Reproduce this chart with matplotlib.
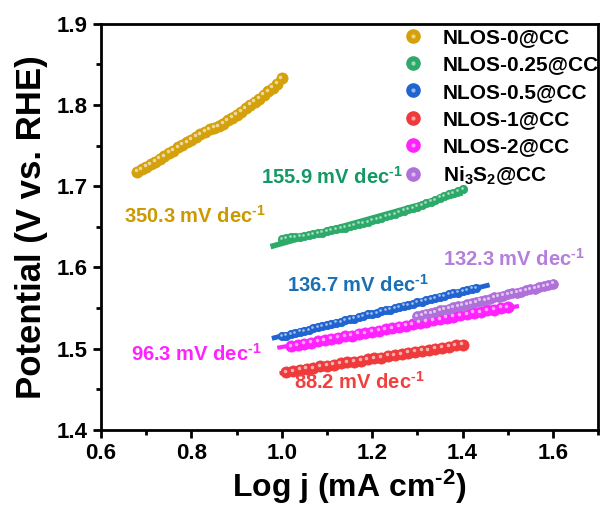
import matplotlib.pyplot as plt
import matplotlib.transforms as mtransforms
import numpy as np
from matplotlib.legend_handler import HandlerTuple
from matplotlib.lines import Line2D

plt.rcParams["font.family"] = ["Liberation Sans", "DejaVu Sans"]
plt.rcParams["font.weight"] = "bold"
plt.rcParams["mathtext.fontset"] = "custom"
plt.rcParams["mathtext.rm"] = "Liberation Sans:bold"
plt.rcParams["mathtext.bf"] = "Liberation Sans:bold"
plt.rcParams["mathtext.it"] = "Liberation Sans:bold:italic"
plt.rcParams["mathtext.default"] = "bf"

# ---- data ----
labels = ["NLOS-0@CC", "NLOS-0.25@CC", "NLOS-0.5@CC", "NLOS-1@CC",
          "NLOS-2@CC", "Ni$_3$S$_2$@CC"]
tafel_slopes = [350.3, 155.9, 136.7, 88.2, 96.3, 132.3]  # mV dec-1

x_nlos0 = [0.68, 0.69, 0.70, 0.71, 0.72, 0.73, 0.74, 0.75, 0.76, 0.77, 0.78,
           0.79, 0.80, 0.81, 0.82, 0.83, 0.84, 0.85, 0.86, 0.87, 0.88, 0.89,
           0.90, 0.91, 0.92, 0.93, 0.94, 0.95, 0.96, 0.97, 0.98, 0.99, 1.00]
y_nlos0 = [1.718, 1.721, 1.724, 1.727, 1.730, 1.734, 1.737, 1.741, 1.744,
           1.748, 1.751, 1.754, 1.757, 1.761, 1.764, 1.767, 1.770, 1.772,
           1.774, 1.777, 1.781, 1.784, 1.788, 1.792, 1.796, 1.800, 1.804,
           1.808, 1.813, 1.817, 1.821, 1.826, 1.833]

x_nlos025 = [1.00, 1.01, 1.02, 1.03, 1.04, 1.05, 1.06, 1.07, 1.08, 1.09, 1.10,
             1.11, 1.12, 1.13, 1.14, 1.15, 1.16, 1.17, 1.18, 1.19, 1.20, 1.21,
             1.22, 1.23, 1.24, 1.25, 1.26, 1.27, 1.28, 1.29, 1.30, 1.31, 1.32,
             1.33, 1.34, 1.35, 1.36, 1.37, 1.38, 1.39, 1.40]
y_nlos025 = [1.635, 1.636, 1.637, 1.637, 1.638, 1.639, 1.640, 1.641, 1.642,
             1.643, 1.645, 1.646, 1.647, 1.648, 1.649, 1.651, 1.652, 1.654,
             1.655, 1.656, 1.658, 1.660, 1.661, 1.663, 1.664, 1.666, 1.668,
             1.670, 1.672, 1.673, 1.675, 1.677, 1.679, 1.681, 1.683, 1.686,
             1.688, 1.690, 1.692, 1.694, 1.697]

x_nlos05 = [1.00, 1.01, 1.02, 1.03, 1.04, 1.05, 1.06, 1.07, 1.08, 1.09, 1.10,
            1.11, 1.12, 1.13, 1.14, 1.15, 1.16, 1.17, 1.18, 1.19, 1.20, 1.21,
            1.22, 1.23, 1.24, 1.25, 1.26, 1.27, 1.28, 1.29, 1.30, 1.31, 1.32,
            1.33, 1.34, 1.35, 1.36, 1.37, 1.38, 1.39, 1.40, 1.41, 1.42, 1.43]
y_nlos05 = [1.515, 1.516, 1.518, 1.519, 1.521, 1.522, 1.523, 1.525, 1.526,
            1.528, 1.529, 1.530, 1.532, 1.533, 1.535, 1.536, 1.537, 1.539,
            1.540, 1.542, 1.543, 1.544, 1.546, 1.547, 1.548, 1.550, 1.551,
            1.553, 1.554, 1.555, 1.557, 1.558, 1.560, 1.561, 1.562, 1.564,
            1.565, 1.567, 1.568, 1.569, 1.571, 1.572, 1.574, 1.575]

x_nlos1 = [1.010, 1.025, 1.040, 1.055, 1.070, 1.085, 1.100, 1.115, 1.130,
           1.145, 1.160, 1.175, 1.190, 1.205, 1.220, 1.235, 1.250, 1.265,
           1.280, 1.295, 1.310, 1.325, 1.340, 1.355, 1.370, 1.385, 1.400]
y_nlos1 = [1.471, 1.472, 1.474, 1.475, 1.476, 1.478, 1.479, 1.480, 1.482,
           1.483, 1.484, 1.485, 1.487, 1.488, 1.489, 1.491, 1.492, 1.493,
           1.495, 1.496, 1.497, 1.498, 1.500, 1.501, 1.502, 1.504, 1.505]

x_nlos2 = [1.020, 1.035, 1.050, 1.065, 1.080, 1.095, 1.110, 1.125, 1.140,
           1.155, 1.170, 1.185, 1.200, 1.215, 1.230, 1.245, 1.260, 1.275,
           1.290, 1.305, 1.320, 1.335, 1.350, 1.365, 1.380, 1.395, 1.410,
           1.425, 1.440, 1.455, 1.470, 1.485, 1.500]
y_nlos2 = [1.503, 1.504, 1.506, 1.507, 1.509, 1.510, 1.512, 1.513, 1.515,
           1.516, 1.518, 1.519, 1.521, 1.522, 1.524, 1.525, 1.527, 1.528,
           1.530, 1.532, 1.533, 1.535, 1.536, 1.538, 1.539, 1.541, 1.542,
           1.544, 1.545, 1.547, 1.548, 1.550, 1.551]

x_ni3s2 = [1.30, 1.31, 1.32, 1.33, 1.34, 1.35, 1.36, 1.37, 1.38, 1.39, 1.40,
           1.41, 1.42, 1.43, 1.44, 1.45, 1.46, 1.47, 1.48, 1.49, 1.50, 1.51,
           1.52, 1.53, 1.54, 1.55, 1.56, 1.57, 1.58, 1.59, 1.60]
y_ni3s2 = [1.540, 1.541, 1.543, 1.544, 1.545, 1.547, 1.548, 1.549, 1.551,
           1.552, 1.553, 1.555, 1.556, 1.557, 1.559, 1.560, 1.561, 1.563,
           1.564, 1.565, 1.567, 1.568, 1.569, 1.570, 1.572, 1.573, 1.574,
           1.576, 1.577, 1.578, 1.580]

# x-range over which each linear Tafel fit is drawn
fit_start = [0.68, 0.975, 0.978, 0.995, 0.99, 1.30]
fit_end = [1.00, 1.40, 1.46, 1.40, 1.525, 1.60]

series_x = [x_nlos0, x_nlos025, x_nlos05, x_nlos1, x_nlos2, x_ni3s2]
series_y = [y_nlos0, y_nlos025, y_nlos05, y_nlos1, y_nlos2, y_ni3s2]

# ---- styles ----
marker_colors = ["#D4A10A", "#2DAA6A", "#1F64D0", "#EE3A3A", "#FF22FF", "#B070DA"]
text_colors = ["#CC9900", "#149966", "#1A6FB5", "#F04040", "#FF22FF", "#B57EDC"]
marker_sizes = [8, 6, 6, 8, 8, 7]
line_widths = [3, 4, 3.5, 3, 3, 3]
label_pos = [(0.808, 1.664), (1.112, 1.712), (1.168, 1.578),
             (1.172, 1.459), (0.81, 1.494), (1.514, 1.61)]

fig = plt.figure(figsize=(6.09, 5.08), dpi=100)
ax = fig.add_axes([0.166, 0.154, 0.816, 0.799])


def ball(ax, x, y, color, ms):
    ax.plot(x, y, linestyle="None", marker="o", ms=ms, mfc=color,
            mec=color, mew=0.6, zorder=3)
    shift = mtransforms.offset_copy(ax.transData, fig=fig,
                                    x=-ms * 0.12, y=ms * 0.14, units="points")
    ax.plot(x, y, linestyle="None", marker="o", ms=ms * 0.32, mfc="white",
            mec="none", alpha=0.6, transform=shift, zorder=4)


handles = []
for i in range(6):
    x = np.array(series_x[i])
    y = np.array(series_y[i])
    slope = tafel_slopes[i] / 1000.0
    intercept = y.mean() - slope * x.mean()
    xf = np.array([fit_start[i], fit_end[i]])
    ax.plot(xf, intercept + slope * xf, color=marker_colors[i],
            lw=line_widths[i], solid_capstyle="butt", zorder=2)
    ball(ax, x, y, marker_colors[i], marker_sizes[i])
    ax.text(label_pos[i][0], label_pos[i][1],
            f"{tafel_slopes[i]:.1f} mV dec$^{{\\text{{-1}}}}$",
            color=text_colors[i], fontsize=14.5, fontweight="bold",
            ha="center", va="center")
    h_main = Line2D([], [], linestyle="None", marker="o", ms=9.5,
                    mfc=marker_colors[i], mec=marker_colors[i])
    h_light = Line2D([], [], linestyle="None", marker="o", ms=3,
                     mfc="white", mec="none", alpha=0.55)
    handles.append((h_main, h_light))

ax.legend(handles, labels, handler_map={tuple: HandlerTuple(ndivide=1)},
          loc="upper left", bbox_to_anchor=(0.606, 0.99), frameon=False,
          fontsize=15, handlelength=1.0, handletextpad=0.95,
          labelspacing=0.4, borderpad=0, borderaxespad=0)

ax.set_xlim(0.6, 1.7)
ax.set_ylim(1.4, 1.9)
ax.set_xticks([0.6, 0.8, 1.0, 1.2, 1.4, 1.6])
ax.set_xticks(np.arange(0.7, 1.71, 0.2), minor=True)
ax.set_yticks([1.4, 1.5, 1.6, 1.7, 1.8, 1.9])
ax.set_yticks(np.arange(1.45, 1.9, 0.1), minor=True)
ax.tick_params(which="both", direction="out", width=2, labelsize=16)
ax.tick_params(which="major", length=6)
ax.tick_params(which="minor", length=3.5)
for side in ax.spines.values():
    side.set_linewidth(2)

ax.set_xlabel("Log j (mA cm$^{\\text{-2}}$)", fontsize=23, fontweight="bold",
              labelpad=3)
ax.set_ylabel("Potential (V vs. RHE)", fontsize=25, fontweight="bold",
              labelpad=6)

fig.savefig("out.png", dpi=100)
